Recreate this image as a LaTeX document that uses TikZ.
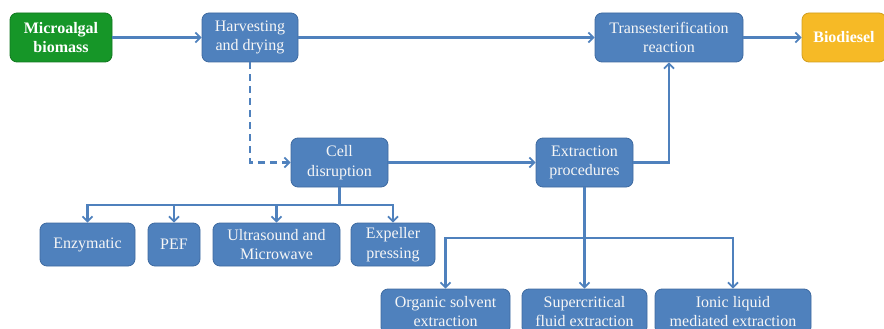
\documentclass[tikz,border=0pt]{standalone}
\usepackage{fontspec}
\setmainfont{Liberation Serif}
\usetikzlibrary{arrows.meta}
\definecolor{bluefill}{RGB}{79,129,189}
\definecolor{blueedge}{RGB}{62,106,160}
\definecolor{greenfill}{RGB}{22,150,40}
\definecolor{goldfill}{RGB}{246,186,38}
\definecolor{arrowblue}{RGB}{79,129,189}
\begin{document}
\begin{tikzpicture}[x=1pt,y=-1pt,
  box/.style={draw=blueedge, line width=0.8pt, fill=bluefill, rounded corners=7pt, inner sep=0pt,
    align=center, text=white!93!gray, font=\fontsize{16}{19.5}\selectfont},
  conn/.style={draw=arrowblue, line width=2.2pt, -{Straight Barb[length=5pt,width=10pt,line width=1.8pt]}},
  plain/.style={draw=arrowblue, line width=2.2pt}]
\useasboundingbox (0,0) rectangle (884,329);
\clip (0,0) rectangle (884,329);
\node[box, fill=greenfill, draw=greenfill!80!black, text=white, font=\fontsize{16}{19.5}\selectfont\bfseries,
  minimum width=102pt, minimum height=49pt] (bio) at (61,37.5) {Microalgal\\biomass};
\node[box, minimum width=96pt, minimum height=49pt] (harv) at (250,37.5) {Harvesting\\and drying};
\node[box, minimum width=148pt, minimum height=49pt] (trans) at (669,37.5) {Transesterification\\reaction};
\node[box, fill=goldfill, draw=goldfill!85!black, text=white, font=\fontsize{16}{19.5}\selectfont\bfseries,
  minimum width=84pt, minimum height=49pt] (diesel) at (844,37.5) {Biodiesel};
\node[box, minimum width=97pt, minimum height=49pt] (cell) at (339.5,162.5) {Cell\\disruption};
\node[box, minimum width=97pt, minimum height=49pt] (extr) at (584.5,162.5) {Extraction\\procedures};
\node[box, minimum width=95pt, minimum height=43pt] (enz) at (87.5,244.5) {Enzymatic};
\node[box, minimum width=52pt, minimum height=43pt] (pef) at (174,244.5) {PEF};
\node[box, minimum width=127pt, minimum height=43pt] (ultra) at (276.5,244.5) {Ultrasound and\\Microwave};
\node[box, minimum width=84pt, minimum height=43pt] (exp) at (393,244.5) {Expeller\\pressing};
\node[box, minimum width=129pt, minimum height=45pt] (org) at (445.5,311.5) {Organic solvent\\extraction};
\node[box, minimum width=125pt, minimum height=45pt] (sup) at (584.5,311.5) {Supercritical\\fluid extraction};
\node[box, minimum width=156pt, minimum height=45pt] (ion) at (733,311.5) {Ionic liquid\\mediated extraction};
\coordinate (cb) at (339.5,205);
\coordinate (eb) at (584.5,238);
\draw[conn] (bio) -- (harv);
\draw[conn] (harv) -- (trans);
\draw[conn] (trans) -- (diesel);
\draw[conn, dashed, dash pattern=on 7pt off 5pt] (harv.south) |- (cell.west);
\draw[conn] (cell) -- (extr);
\draw[conn] (extr.east) -| (trans.south);
\draw[plain] (cell.south) -- (cb);
\draw[conn] (cb) -| (enz.north);
\draw[conn] (cb) -| (pef.north);
\draw[conn] (cb) -| (ultra.north);
\draw[conn] (cb) -| (exp.north);
\draw[plain] (extr.south) -- (eb);
\draw[conn] (eb) -| (org.north);
\draw[conn] (eb) -- (sup.north);
\draw[conn] (eb) -| (ion.north);
\end{tikzpicture}
\end{document}
